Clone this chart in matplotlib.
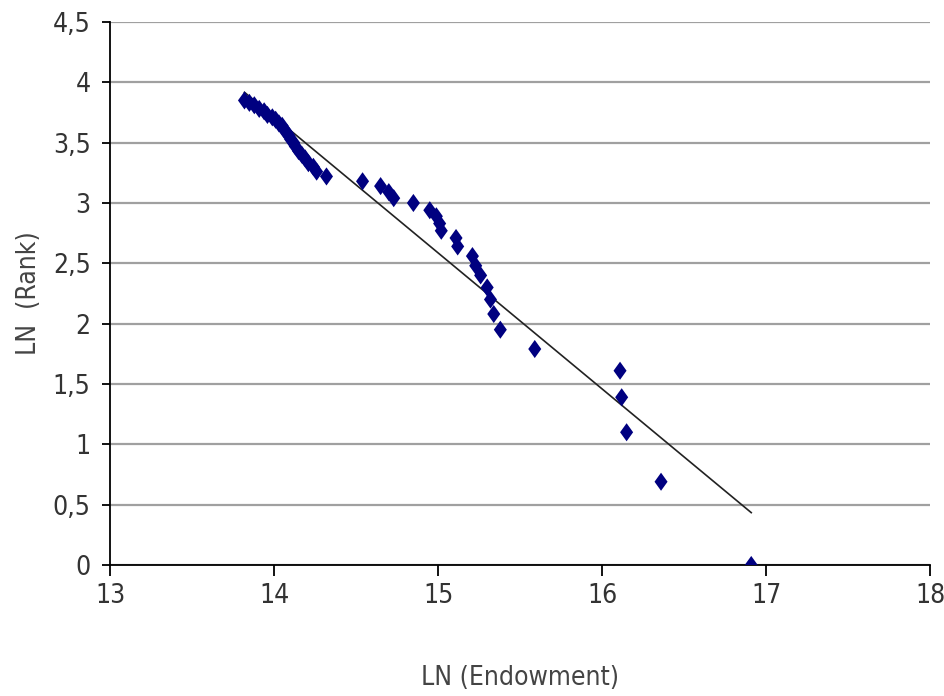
import numpy as np
import matplotlib
matplotlib.use("Agg")
import matplotlib.pyplot as plt
from matplotlib.ticker import FuncFormatter

plt.rcParams['font.family'] = ['DejaVu Sans']
plt.rcParams['font.stretch'] = 'condensed'

# Data: LN(Endowment) vs LN(Rank)
ln_endowment = [16.91, 16.36, 16.15, 16.12, 16.11, 15.59, 15.38, 15.34, 15.32, 15.30,
                15.26, 15.23, 15.21, 15.12, 15.11, 15.02, 15.01, 14.99, 14.95, 14.85,
                14.73, 14.70, 14.65, 14.54, 14.32, 14.26, 14.24, 14.21, 14.19, 14.17,
                14.15, 14.13, 14.12, 14.10, 14.09, 14.08, 14.06, 14.05, 14.03, 14.01,
                13.99, 13.96, 13.94, 13.91, 13.88, 13.85, 13.82]
ln_rank = [0.00, 0.69, 1.10, 1.39, 1.61, 1.79, 1.95, 2.08, 2.20, 2.30,
           2.40, 2.48, 2.56, 2.64, 2.71, 2.77, 2.83, 2.89, 2.94, 3.00,
           3.04, 3.09, 3.14, 3.18, 3.22, 3.26, 3.30, 3.33, 3.37, 3.40,
           3.43, 3.47, 3.50, 3.53, 3.56, 3.58, 3.61, 3.64, 3.66, 3.69,
           3.71, 3.73, 3.76, 3.78, 3.81, 3.83, 3.85]

x_ticks = [13, 14, 15, 16, 17, 18]
y_ticks = [0, 0.5, 1, 1.5, 2, 2.5, 3, 3.5, 4, 4.5]

fig = plt.figure(figsize=(9.44, 6.96), dpi=100)
ax = fig.add_axes([110/944, 1-565/696, 820/944, 543/696])

x = np.array(ln_endowment)
y = np.array(ln_rank)
slope, intercept = np.polyfit(x, y, 1)
xl = np.array([x.min(), x.max()])
ax.plot(xl, slope*xl + intercept, color='#222222', lw=1.2, zorder=2)

diamond = [(0, 1), (0.72, 0), (0, -1), (-0.72, 0), (0, 1)]
ax.scatter(x, y, marker=diamond, s=170, color='#000080', edgecolors='none', zorder=3)

ax.set_xlim(13, 18)
ax.set_ylim(0, 4.5)
ax.set_xticks(x_ticks)
ax.set_yticks(y_ticks)
fmt = FuncFormatter(lambda v, p: ('%g' % v).replace('.', ','))
ax.yaxis.set_major_formatter(fmt)
ax.xaxis.set_major_formatter(fmt)

ax.yaxis.grid(True, color='#a0a0a0', lw=1.6)
ax.set_axisbelow(True)
for s in ['top', 'right']:
    ax.spines[s].set_visible(False)
for s in ['left', 'bottom']:
    ax.spines[s].set_color('black')
    ax.spines[s].set_linewidth(1.3)
ax.tick_params(axis='x', direction='out', length=8, width=1.3, labelsize=19,
               labelcolor='#333333', pad=5)
ax.tick_params(axis='y', direction='out', length=6, width=1.3, labelsize=19,
               labelcolor='#333333', pad=8)

ax.set_xlabel('LN (Endowment)', fontsize=19, color='#444444', labelpad=40)
ax.set_ylabel('LN  (Rank)', fontsize=19, color='#444444', labelpad=8)

fig.savefig('out.png', dpi=100)
